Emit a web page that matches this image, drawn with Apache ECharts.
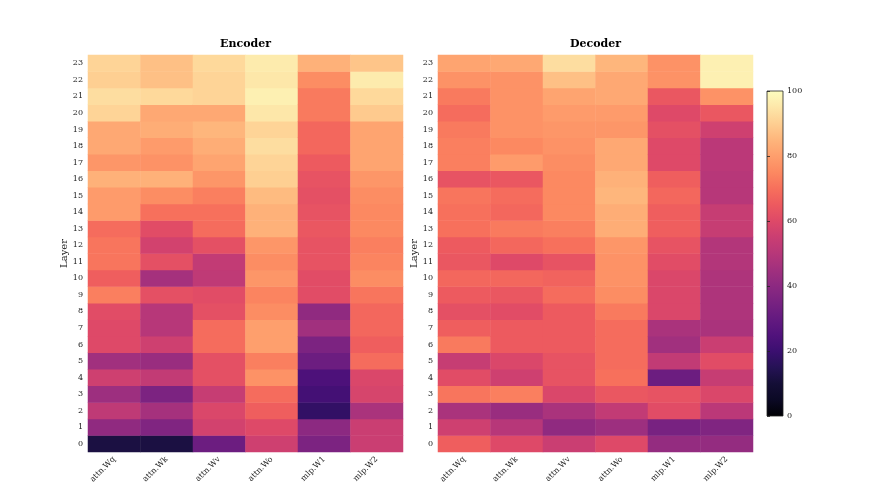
<!DOCTYPE html>
<html>
<head>
<meta charset="utf-8">
<script src="https://cdn.jsdelivr.net/npm/echarts@6/dist/echarts.min.js"></script>
<style>
    html, body { margin: 0; padding: 0; background: #fff; }
    #main { width: 893px; height: 500px; }
</style>
</head>
<body>
<div id="main"></div>
<script>
    // layers 0..23, one array per weight matrix
    var layers = [];
    for (var i = 0; i < 24; i++) layers.push(String(i));
    var modules = ['attn.Wq', 'attn.Wk', 'attn.Wv', 'attn.Wo', 'mlp.W1', 'mlp.W2'];
    var cbarTicks = [0, 20, 40, 60, 80, 100];

    var encWq = [12, 41, 52, 44, 56, 45, 60, 60, 61, 73, 66, 71, 71, 69, 79, 79, 84, 78, 82, 82, 91, 93, 90, 91];
    var encWk = [12, 37, 46, 36, 53, 43, 56, 50, 50, 62, 46, 62, 57, 61, 70, 76, 84, 77, 79, 83, 82, 92, 87, 87];
    var encWv = [32, 57, 59, 54, 62, 62, 69, 69, 62, 61, 52, 53, 62, 69, 70, 73, 78, 81, 83, 85, 82, 91, 91, 92];
    var encWo = [56, 60, 66, 69, 77, 73, 80, 80, 76, 74, 78, 76, 78, 84, 84, 86, 90, 91, 93, 91, 95, 97, 95, 96];
    var encW1 = [36, 40, 18, 22, 24, 32, 36, 45, 41, 61, 61, 63, 63, 64, 63, 62, 63, 65, 68, 68, 72, 72, 76, 84];
    var encW2 = [55, 55, 47, 58, 59, 69, 66, 68, 68, 71, 76, 74, 73, 75, 75, 76, 78, 81, 81, 81, 89, 92, 96, 88];

    var decWq = [66, 56, 47, 71, 61, 54, 72, 66, 62, 65, 68, 64, 65, 70, 70, 71, 63, 73, 73, 72, 69, 72, 77, 81];
    var decWk = [60, 50, 43, 73, 56, 59, 65, 65, 61, 64, 68, 60, 68, 72, 68, 69, 64, 79, 75, 77, 77, 77, 77, 82];
    var decWv = [55, 41, 47, 59, 63, 63, 65, 65, 65, 69, 67, 63, 70, 73, 75, 75, 75, 76, 77, 78, 79, 81, 87, 93];
    var decWo = [60, 44, 53, 64, 70, 69, 69, 69, 72, 76, 77, 77, 78, 83, 83, 85, 84, 82, 82, 78, 79, 82, 82, 85];
    var decW1 = [42, 35, 61, 63, 32, 53, 45, 47, 59, 59, 59, 61, 63, 66, 66, 68, 66, 60, 60, 62, 60, 64, 77, 77];
    var decW2 = [42, 37, 51, 59, 54, 61, 55, 47, 48, 48, 48, 49, 49, 54, 54, 50, 50, 51, 51, 56, 64, 77, 97, 97];

    // magma
    var magma = ['#000004', '#0b0924', '#140e36', '#251255', '#3b0f70', '#51127c', '#641a80',
        '#782281', '#8c2981', '#a1307e', '#b73779', '#ca3e72', '#de4968', '#ed5a5f', '#f7705c',
        '#fc8961', '#fe9f6d', '#feb67c', '#fecf92', '#fde7a9', '#fcfdbf'];

    function toCells(cols) {
        var out = [];
        for (var c = 0; c < cols.length; c++) {
            for (var r = 0; r < cols[c].length; r++) {
                out.push([c, r, cols[c][r]]);
            }
        }
        return out;
    }

    var font = 'DejaVu Serif';
    var myChart = echarts.init(document.getElementById('main'));

    function xAx(idx) {
        return {
            type: 'category', gridIndex: idx, data: modules,
            axisLine: {show: false}, axisTick: {show: false}, splitArea: {show: false},
            axisLabel: {rotate: 45, fontSize: 8, fontFamily: font, color: '#222', margin: 6, interval: 0}
        };
    }

    function yAx(idx) {
        return {
            type: 'category', gridIndex: idx, data: layers,
            name: 'Layer', nameLocation: 'middle', nameRotate: 90, nameGap: 19,
            nameTextStyle: {fontSize: 10, fontFamily: font, color: '#222'},
            axisLine: {show: false}, axisTick: {show: false}, splitArea: {show: false},
            axisLabel: {fontSize: 8, fontFamily: font, color: '#222', margin: 5, interval: 0}
        };
    }

    var colorStops = magma.map(function (c, i) {
        return {offset: i / (magma.length - 1), color: c};
    });

    var option = {
        backgroundColor: '#fff',
        animation: false,
        title: [
            {text: 'Encoder', left: 240.5, top: 34, textAlign: 'center',
                textStyle: {fontSize: 11, fontWeight: 'bold', fontFamily: font, color: '#000'}},
            {text: 'Decoder', left: 590.5, top: 34, textAlign: 'center',
                textStyle: {fontSize: 11, fontWeight: 'bold', fontFamily: font, color: '#000'}}
        ],
        grid: [
            {left: 88, top: 55, width: 315, height: 397, outerBoundsMode: 'none'},
            {left: 438, top: 55, width: 315, height: 397, outerBoundsMode: 'none'},
            {left: 767, top: 91, width: 16, height: 325, outerBoundsMode: 'none', show: true,
                borderColor: '#222', borderWidth: 0.8,
                backgroundColor: {type: 'linear', x: 0, y: 1, x2: 0, y2: 0, colorStops: colorStops}}
        ],
        xAxis: [xAx(0), xAx(1),
            {type: 'value', gridIndex: 2, show: false, min: 0, max: 1}],
        yAxis: [yAx(0), yAx(1),
            {type: 'value', gridIndex: 2, position: 'right', min: cbarTicks[0], max: cbarTicks[cbarTicks.length - 1],
                interval: 20, splitLine: {show: false},
                axisLine: {show: false},
                axisTick: {show: true, length: 3, lineStyle: {color: '#222', width: 0.8}},
                axisLabel: {fontSize: 8, fontFamily: font, color: '#222', margin: 4}}
        ],
        visualMap: {
            show: false, min: 0, max: 100, seriesIndex: [0, 1],
            inRange: {color: magma}
        },
        series: [
            {type: 'heatmap', xAxisIndex: 0, yAxisIndex: 0,
                data: toCells([encWq, encWk, encWv, encWo, encW1, encW2]),
                itemStyle: {borderWidth: 0}, emphasis: {disabled: true}},
            {type: 'heatmap', xAxisIndex: 1, yAxisIndex: 1,
                data: toCells([decWq, decWk, decWv, decWo, decW1, decW2]),
                itemStyle: {borderWidth: 0}, emphasis: {disabled: true}}
        ]
    };
    option && myChart.setOption(option, true);
</script>
</body>
</html>
